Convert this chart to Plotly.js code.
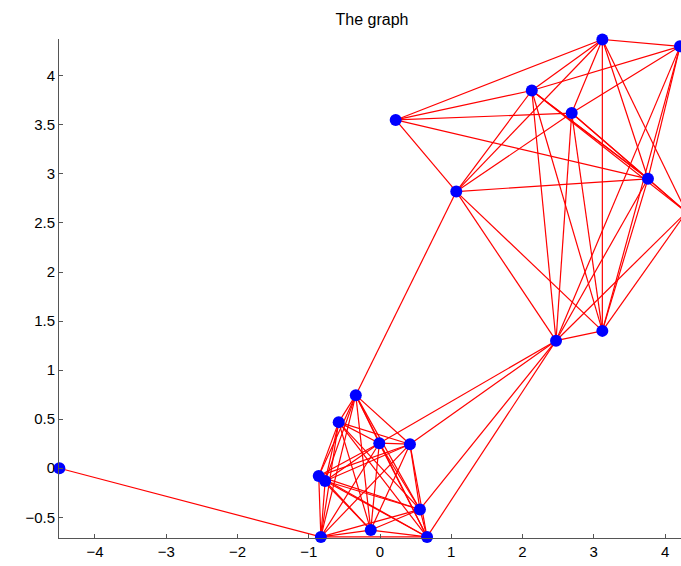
<!DOCTYPE html>
<html>
<head>
<meta charset="utf-8">
<script src="https://cdn.plot.ly/plotly-3.0.1.min.js"></script>
<style>
  html, body { margin: 0; padding: 0; overflow: hidden; background: #fff; }
  #chart { width: 686px; height: 566px; }
</style>
</head>
<body>
<div id="chart"></div>
<script>
// Node coordinates (nodes numbered 1..21)
const nodeX = [-4.50, -0.83, -0.86, -0.77, -0.13, 0.66, 0.56, -0.01, 0.42, -0.58, -0.34,
               0.22, 1.07, 2.13, 2.69, 3.12, 4.21, 3.76, 4.30, 3.12, 2.47];
const nodeY = [0.00, -0.70, -0.08, -0.13, -0.63, -0.70, -0.42, 0.255, 0.245, 0.47, 0.745,
               3.55, 2.82, 3.85, 3.62, 4.37, 4.30, 2.95, 2.61, 1.40, 1.30];

// Edge list (1-based node indices)
const edgeFrom = [
  1,
  2,2,2,2,2,2,2,2,2,
  3,3,3,3,3,3,3,3,
  4,4,4,4,4,4,4,
  5,5,5,5,5,5,
  6,6,6,6,6,
  7,7,7,7,
  8,8,8,
  9,9,
  10,
  11,
  12,12,12,12,12,
  13,13,13,13,13,13,
  14,14,14,14,14,14,14,
  15,15,15,15,15,15,
  16,16,16,16,
  17,17,17,
  18,18,18,
  19,19,
  20,
  21,21,21,21
];
const edgeTo = [
  2,
  3,4,5,6,7,8,9,10,11,
  4,5,6,7,8,9,10,11,
  5,6,7,8,9,10,11,
  6,7,8,9,10,11,
  7,8,9,10,11,
  8,9,10,11,
  9,10,11,
  10,11,
  11,
  13,
  13,14,15,16,18,
  14,15,16,18,20,21,
  16,17,18,19,20,21,18,
  16,17,18,19,20,21,
  17,18,19,20,
  18,20,21,
  20,21,19,
  20,21,
  21,
  6,7,8,9
];

// Build line segments with gaps
const ex = [], ey = [];
for (let i = 0; i < edgeFrom.length; i++) {
  const a = edgeFrom[i] - 1, b = edgeTo[i] - 1;
  ex.push(nodeX[a], nodeX[b], null);
  ey.push(nodeY[a], nodeY[b], null);
}

const edges = {
  x: ex, y: ey, type: 'scatter', mode: 'lines',
  line: { color: '#ff0000', width: 1.2 },
  hoverinfo: 'skip', showlegend: false
};
const nodes = {
  x: nodeX, y: nodeY, type: 'scatter', mode: 'markers',
  marker: { color: '#0000ff', size: 12, line: { width: 0 } },
  cliponaxis: false, showlegend: false
};

const axisCommon = {
  showgrid: false, zeroline: false, showline: true,
  linecolor: '#555555', linewidth: 1,
  ticks: 'inside', ticklen: 4, tickcolor: '#555555',
  tickfont: { family: 'Liberation Sans, Arial, sans-serif', size: 15, color: '#000' },
  mirror: false
};

const layout = {
  width: 686, height: 566,
  margin: { l: 59, r: 1, t: 39, b: 28 },
  paper_bgcolor: '#ffffff', plot_bgcolor: '#ffffff',
  title: {
    text: 'The graph',
    font: { family: 'Liberation Sans, Arial, sans-serif', size: 16, color: '#000' },
    x: 0.5, xref: 'paper', xanchor: 'center',
    y: 1 - 19 / 566, yref: 'container', yanchor: 'middle'
  },
  xaxis: Object.assign({}, axisCommon, {
    range: [-4.505, 4.28], tickmode: 'linear', tick0: -4, dtick: 1
  }),
  yaxis: Object.assign({}, axisCommon, {
    range: [-0.711, 4.375], tickmode: 'linear', tick0: 0, dtick: 0.5
  }),
  showlegend: false
};

Plotly.newPlot('chart', [edges, nodes], layout, { displayModeBar: false, staticPlot: true });
</script>
</body>
</html>
